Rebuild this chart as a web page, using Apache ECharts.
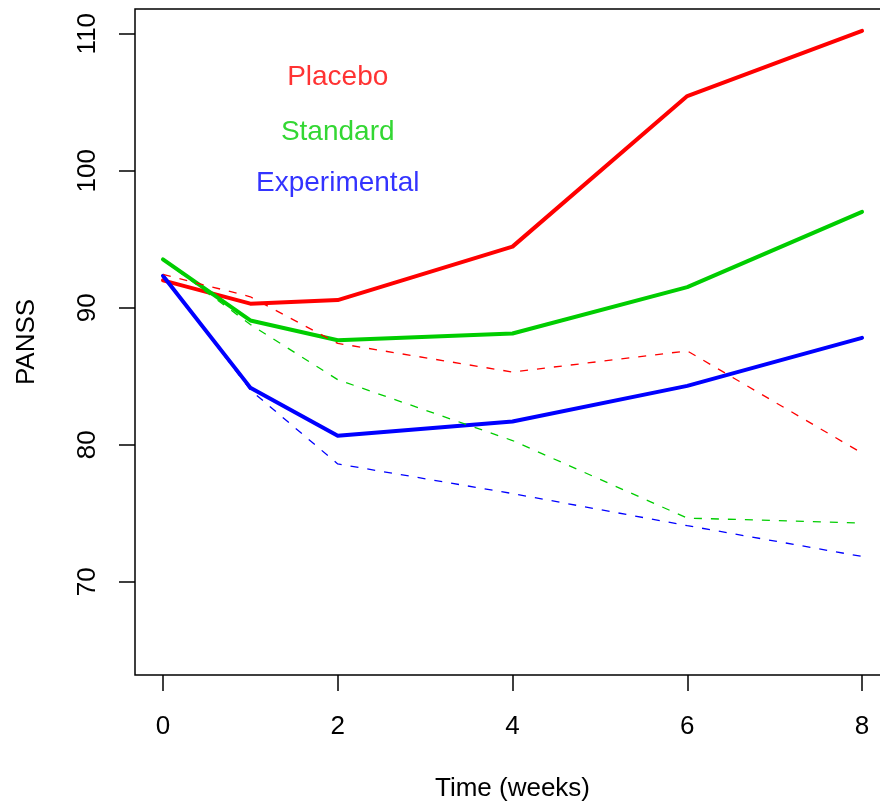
<!DOCTYPE html>
<html>
<head>
<meta charset="utf-8">
<script src="https://cdn.jsdelivr.net/npm/echarts@6/dist/echarts.min.js"></script>
<style>html,body{margin:0;padding:0;background:#fff}#c{width:880px;height:803px}</style>
</head>
<body>
<div id="c"></div>
<script>
var weeks = [0, 1, 2, 4, 6, 8];
var placeboSolid = [92.0, 90.3, 90.56, 94.46, 105.45, 110.2];
var standardSolid = [93.53, 89.07, 87.63, 88.12, 91.5, 97.0];
var experimentalSolid = [92.33, 84.17, 80.66, 81.7, 84.3, 87.8];
var placeboDashed = [92.44, 90.8, 87.4, 85.31, 86.85, 79.39];
var standardDashed = [93.5, 88.78, 84.75, 80.31, 74.65, 74.29];
var experimentalDashed = [92.4, 84.0, 78.6, 76.44, 74.1, 71.85];
var xTicks = [0, 2, 4, 6, 8];
var yTicks = [70, 80, 90, 100, 110];
var labelNames = ['Placebo', 'Standard', 'Experimental'];
var labelX = [2, 2, 2];
var labelY = [106.85, 102.8, 99.05];

var RED = '#FF0000', GREEN = '#00CD00', BLUE = '#0000FF';
var FONT = 'Liberation Sans, Arial, Helvetica, sans-serif';

function pairs(ys) { return weeks.map(function (w, i) { return [w, ys[i]]; }); }
function solid(name, ys, col) {
  return { name: name, type: 'line', data: pairs(ys), symbol: 'none', silent: true,
    lineStyle: { color: col, width: 4, type: 'solid', cap: 'round', join: 'round' }, z: 3 };
}
function dashed(name, ys, col) {
  return { name: name, type: 'line', data: pairs(ys), symbol: 'none', silent: true,
    lineStyle: { color: col, width: 1.3, type: [8, 9] }, z: 4 };
}
var labelCols = [RED, GREEN, BLUE];
var textData = labelNames.map(function (n, i) {
  return { value: [labelX[i], labelY[i]], name: n,
    label: { color: labelCols[i] } };
});

var chart = echarts.init(document.getElementById('c'), null, { renderer: 'canvas' });
chart.setOption({
  animation: false,
  backgroundColor: '#fff',
  grid: { left: 135, top: 9, width: 755, height: 666, outerBoundsMode: 'none', containLabel: false,
    show: true, borderColor: '#000', borderWidth: 1.5, backgroundColor: 'transparent' },
  xAxis: {
    type: 'value', min: -0.32, max: 8.32,
    name: 'Time (weeks)', nameLocation: 'middle', nameGap: 101,
    nameTextStyle: { fontFamily: FONT, fontSize: 26, color: '#000' },
    axisLine: { show: false, onZero: false },
    splitLine: { show: false },
    axisTick: { show: true, inside: false, length: 16, customValues: xTicks, lineStyle: { color: '#000', width: 1.5 } },
    axisLabel: { customValues: xTicks, margin: 39, fontFamily: FONT, fontSize: 26, color: '#000' }
  },
  yAxis: {
    type: 'value', min: 63.2, max: 111.8,
    name: 'PANSS', nameLocation: 'middle', nameGap: 95, nameRotate: 90,
    nameTextStyle: { fontFamily: FONT, fontSize: 26, color: '#000' },
    axisLine: { show: false, onZero: false },
    splitLine: { show: false },
    axisTick: { show: true, inside: false, length: 16, customValues: yTicks, lineStyle: { color: '#000', width: 1.5 } },
    axisLabel: { customValues: yTicks, rotate: 90, margin: 34, fontFamily: FONT, fontSize: 26, color: '#000' }
  },
  series: [
    solid('Placebo', placeboSolid, RED),
    solid('Standard', standardSolid, GREEN),
    solid('Experimental', experimentalSolid, BLUE),
    dashed('Placebo (dashed)', placeboDashed, RED),
    dashed('Standard (dashed)', standardDashed, GREEN),
    dashed('Experimental (dashed)', experimentalDashed, BLUE),
    { type: 'scatter', symbolSize: 0, silent: true, data: textData, z: 5,
      label: { show: true, position: 'inside', formatter: '{b}', fontFamily: FONT, fontSize: 28, align: 'center', verticalAlign: 'middle' } }
  ]
});
</script>
</body>
</html>
